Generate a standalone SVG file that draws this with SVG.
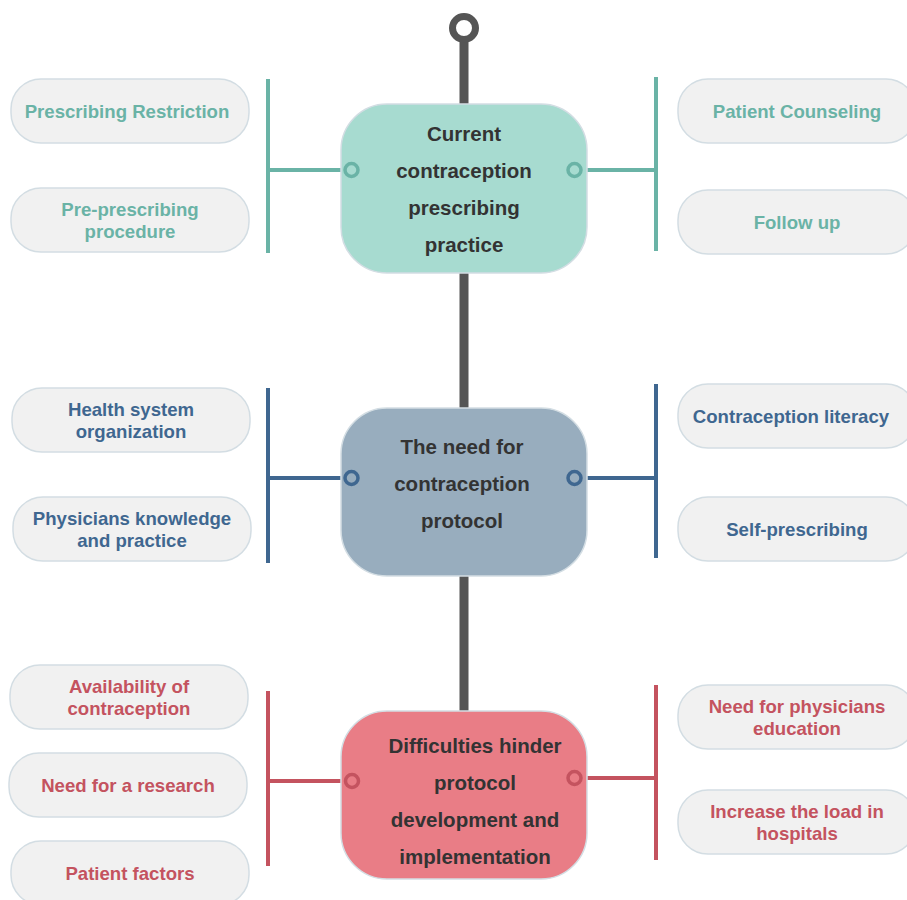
<svg xmlns="http://www.w3.org/2000/svg" width="907" height="900" viewBox="0 0 907 900">
<defs>
<style>
.main{stroke:#d3dde3;stroke-width:1.5}
.sub{fill:#f1f1f1;stroke:#d3dde3;stroke-width:1.5}
.mt{font-family:"Liberation Sans",Arial,sans-serif;font-weight:bold;font-size:20.5px;fill:#333;text-anchor:middle}
.st{font-family:"Liberation Sans",Arial,sans-serif;font-weight:bold;font-size:18.6px;text-anchor:middle}
.teal{stroke:#6ab3a6}
.blue{stroke:#3f6790}
.red{stroke:#c4535f}
.tt{fill:#6ab3a6}
.bt{fill:#3f6790}
.rt{fill:#c4535f}
.ln{fill:none;stroke-width:4}
.dot{fill:none;stroke-width:3.5}
</style>
</defs>
<rect width="907" height="900" fill="#ffffff"/>
<g id="connectors">
<line x1="464" y1="38" x2="464" y2="712" stroke="#555555" stroke-width="9"/>
<circle cx="464" cy="28" r="11.5" fill="none" stroke="#555555" stroke-width="7"/>
<g class="teal">
<line class="ln" x1="268" y1="170" x2="345" y2="170"/>
<line class="ln" x1="268" y1="79" x2="268" y2="253"/>
<line class="ln" x1="581" y1="170" x2="656" y2="170"/>
<line class="ln" x1="656" y1="77" x2="656" y2="251"/>
</g>
<g class="blue">
<line class="ln" x1="268" y1="478" x2="345" y2="478"/>
<line class="ln" x1="268" y1="388" x2="268" y2="563"/>
<line class="ln" x1="581" y1="478" x2="656" y2="478"/>
<line class="ln" x1="656" y1="384" x2="656" y2="558"/>
</g>
<g class="red">
<line class="ln" x1="268" y1="781" x2="345" y2="781"/>
<line class="ln" x1="268" y1="691" x2="268" y2="866"/>
<line class="ln" x1="581" y1="778" x2="656" y2="778"/>
<line class="ln" x1="656" y1="685" x2="656" y2="860"/>
</g>
</g>
<g id="node1">
<rect class="main" x="341" y="104" width="246" height="169" rx="46" fill="#a7dbd0"/>
<text class="mt" x="464" y="141">Current</text>
<text class="mt" x="464" y="178">contraception</text>
<text class="mt" x="464" y="215">prescribing</text>
<text class="mt" x="464" y="252">practice</text>
<circle class="dot teal" cx="351.5" cy="170" r="6.5"/>
<circle class="dot teal" cx="574.5" cy="170" r="6.5"/>
</g>
<g id="node2">
<rect class="main" x="341" y="408" width="246" height="168" rx="46" fill="#98adbe"/>
<text class="mt" x="462" y="454">The need for</text>
<text class="mt" x="462" y="491">contraception</text>
<text class="mt" x="462" y="528">protocol</text>
<circle class="dot blue" cx="351.5" cy="478" r="6.5"/>
<circle class="dot blue" cx="574.5" cy="478" r="6.5"/>
</g>
<g id="node3">
<rect class="main" x="341" y="711" width="246" height="168" rx="46" fill="#e97d86"/>
<text class="mt" x="475" y="753">Difficulties hinder</text>
<text class="mt" x="475" y="790">protocol</text>
<text class="mt" x="475" y="827">development and</text>
<text class="mt" x="475" y="864">implementation</text>
<circle class="dot red" cx="352" cy="781" r="6.5"/>
<circle class="dot red" cx="574.5" cy="778" r="6.5"/>
</g>
<g id="sub-prescribing-restriction">
<rect class="sub" x="11" y="79" width="238" height="64" rx="30"/>
<text class="st tt" x="127" y="118">Prescribing Restriction</text>
</g>
<g id="sub-pre-prescribing">
<rect class="sub" x="11" y="188" width="238" height="64" rx="30"/>
<text class="st tt" x="130" y="216">Pre-prescribing</text>
<text class="st tt" x="130" y="238">procedure</text>
</g>
<g id="sub-patient-counseling">
<rect class="sub" x="678" y="79" width="238" height="64" rx="30"/>
<text class="st tt" x="797" y="118">Patient Counseling</text>
</g>
<g id="sub-follow-up">
<rect class="sub" x="678" y="190" width="238" height="64" rx="30"/>
<text class="st tt" x="797" y="229">Follow up</text>
</g>
<g id="sub-health-system">
<rect class="sub" x="12" y="388" width="238" height="64" rx="30"/>
<text class="st bt" x="131" y="416">Health system</text>
<text class="st bt" x="131" y="438">organization</text>
</g>
<g id="sub-physicians-knowledge">
<rect class="sub" x="13" y="497" width="238" height="64" rx="30"/>
<text class="st bt" x="132" y="525">Physicians knowledge</text>
<text class="st bt" x="132" y="547">and practice</text>
</g>
<g id="sub-contraception-literacy">
<rect class="sub" x="678" y="384" width="238" height="64" rx="30"/>
<text class="st bt" x="791" y="423">Contraception literacy</text>
</g>
<g id="sub-self-prescribing">
<rect class="sub" x="678" y="497" width="238" height="64" rx="30"/>
<text class="st bt" x="797" y="536">Self-prescribing</text>
</g>
<g id="sub-availability">
<rect class="sub" x="10" y="665" width="238" height="64" rx="30"/>
<text class="st rt" x="129" y="693">Availability of</text>
<text class="st rt" x="129" y="715">contraception</text>
</g>
<g id="sub-need-research">
<rect class="sub" x="9" y="753" width="238" height="64" rx="30"/>
<text class="st rt" x="128" y="792">Need for a research</text>
</g>
<g id="sub-patient-factors">
<rect class="sub" x="11" y="841" width="238" height="64" rx="30"/>
<text class="st rt" x="130" y="880">Patient factors</text>
</g>
<g id="sub-physicians-education">
<rect class="sub" x="678" y="685" width="238" height="64" rx="30"/>
<text class="st rt" x="797" y="713">Need for physicians</text>
<text class="st rt" x="797" y="735">education</text>
</g>
<g id="sub-load-hospitals">
<rect class="sub" x="678" y="790" width="238" height="64" rx="30"/>
<text class="st rt" x="797" y="818">Increase the load in</text>
<text class="st rt" x="797" y="840">hospitals</text>
</g>
</svg>
